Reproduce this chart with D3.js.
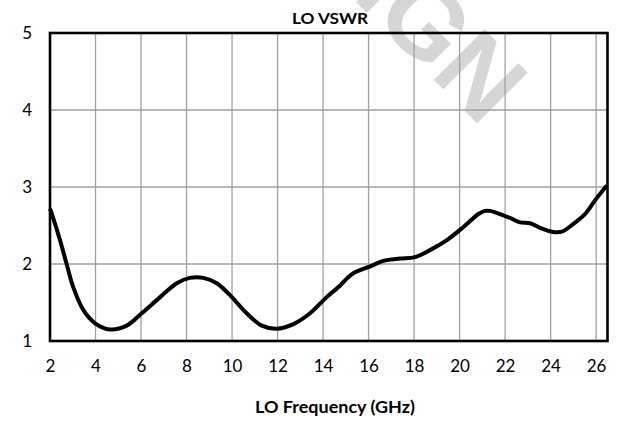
<!DOCTYPE html>
<html>
<head>
<meta charset="utf-8">
<script src="https://cdn.jsdelivr.net/npm/d3@7"></script>
<style>
  html, body { margin: 0; padding: 0; background: #fff; }
  svg { display: block; }
</style>
</head>
<body>
<svg id="chart" width="631" height="422"></svg>
<script>
// ---- data ----
const freqGHz = [2.0, 2.07, 2.44, 2.73, 3.02, 3.47, 3.98, 4.64, 5.37, 6.03, 6.84, 7.57, 8.15, 8.74, 9.33, 9.99, 10.64, 11.31, 11.96, 12.70, 13.43, 14.16, 14.75, 15.04, 15.33, 16.07, 16.65, 17.38, 18.04, 18.70, 19.44, 20.17, 20.83, 21.12, 21.34, 21.93, 22.29, 22.66, 23.10, 23.54, 24.05, 24.49, 25.00, 25.52, 25.96, 26.47];
const vswr    = [2.72, 2.66, 2.31, 2.00, 1.70, 1.40, 1.23, 1.15, 1.20, 1.36, 1.57, 1.75, 1.82, 1.82, 1.75, 1.57, 1.36, 1.20, 1.16, 1.22, 1.36, 1.57, 1.72, 1.81, 1.88, 1.97, 2.04, 2.07, 2.09, 2.18, 2.31, 2.48, 2.65, 2.69, 2.69, 2.63, 2.59, 2.54, 2.53, 2.47, 2.42, 2.42, 2.52, 2.65, 2.83, 3.02];
const xTicks = [2, 4, 6, 8, 10, 12, 14, 16, 18, 20, 22, 24, 26];
const yTicks = [1, 2, 3, 4, 5];
const chartTitle = "LO VSWR";
const xTitle = "LO Frequency (GHz)";
const watermark = "DESIGN";

// ---- layout ----
const W = 631, H = 422;
const plot = { left: 50, top: 33, right: 607.5, bottom: 341 };
const font = "Lato, 'Open Sans', sans-serif";

const svg = d3.select("#chart");
const x = d3.scaleLinear().domain([2, 26.5]).range([plot.left, plot.right]);
const y = d3.scaleLinear().domain([1, 5]).range([plot.bottom, plot.top]);

// watermark (behind grid)
svg.append("text")
  .attr("transform", "translate(482,128) rotate(45)")
  .attr("text-anchor", "end")
  .attr("font-family", "'Liberation Sans', Arial, sans-serif")
  .attr("font-weight", "bold")
  .attr("font-size", 104)
  .attr("fill", "#d6d6d6")
  .text(watermark);

// grid
const grid = svg.append("g");
grid.selectAll("line.vx").data(xTicks.filter(d => d > 2)).join("line")
  .attr("x1", d => x(d)).attr("x2", d => x(d))
  .attr("y1", plot.top).attr("y2", plot.bottom)
  .attr("stroke", "#a0a0a0").attr("stroke-width", 1.3);
grid.selectAll("line.hy").data(yTicks.filter(d => d > 1 && d < 5)).join("line")
  .attr("x1", plot.left).attr("x2", plot.right)
  .attr("y1", d => y(d)).attr("y2", d => y(d))
  .attr("stroke", "#a0a0a0").attr("stroke-width", 1.3);

// axes (labels only)
const xAxis = d3.axisBottom(x).tickValues(xTicks).tickSize(0).tickPadding(19).tickFormat(d3.format("d"));
const gx = svg.append("g").attr("transform", `translate(0,${plot.bottom})`).call(xAxis);
gx.select(".domain").remove();
gx.selectAll("text").attr("font-family", font).attr("font-size", 17).attr("fill", "#000");

const yAxis = d3.axisLeft(y).tickValues(yTicks).tickSize(0).tickPadding(18).tickFormat(d3.format("d"));
const gy = svg.append("g").attr("transform", `translate(${plot.left},0)`).call(yAxis);
gy.select(".domain").remove();
gy.selectAll("text").attr("font-family", font).attr("font-size", 17).attr("fill", "#000");

// data line
const pts = freqGHz.map((f, i) => [f, vswr[i]]);
svg.append("path")
  .datum(pts)
  .attr("fill", "none")
  .attr("stroke", "#000")
  .attr("stroke-width", 4)
  .attr("stroke-linejoin", "round")
  .attr("d", d3.line().x(d => x(d[0])).y(d => y(d[1])).curve(d3.curveCatmullRom.alpha(0.5)));

// frame
svg.append("rect")
  .attr("x", plot.left).attr("y", plot.top)
  .attr("width", plot.right - plot.left).attr("height", plot.bottom - plot.top)
  .attr("fill", "none").attr("stroke", "#000").attr("stroke-width", 2.6);

// titles
svg.append("text")
  .attr("x", 330).attr("y", 24)
  .attr("text-anchor", "middle")
  .attr("font-family", font).attr("font-weight", "bold").attr("font-size", 16)
  .attr("textLength", 76).attr("lengthAdjust", "spacingAndGlyphs")
  .text(chartTitle);

svg.append("text")
  .attr("x", 335).attr("y", 413)
  .attr("text-anchor", "middle")
  .attr("font-family", font).attr("font-weight", "bold").attr("font-size", 17)
  .attr("textLength", 160).attr("lengthAdjust", "spacingAndGlyphs")
  .text(xTitle);
</script>
</body>
</html>
